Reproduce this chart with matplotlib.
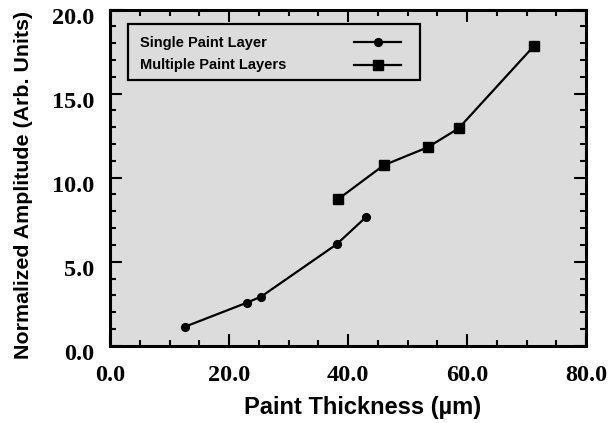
import matplotlib
matplotlib.use("Agg")
import matplotlib.pyplot as plt
from matplotlib.ticker import MultipleLocator, FormatStrFormatter
from matplotlib.patches import Rectangle
from matplotlib.transforms import ScaledTranslation

# Paint thickness (um) vs normalized amplitude
single_thickness = [12.6, 23.0, 25.4, 38.1, 43.1]
single_amplitude = [1.13, 2.56, 2.92, 6.04, 7.68]

multi_thickness = [38.3, 46.0, 53.4, 58.6, 71.3]
multi_amplitude = [8.71, 10.74, 11.81, 12.94, 17.86]

series_labels = ["Single Paint Layer", "Multiple Paint Layers"]

x_ticks = [0, 20, 40, 60, 80]
y_ticks = [0, 5, 10, 15, 20]

W, H = 608, 423
X0, X1, YT, YB = 110, 586, 9.7, 345.7

fig = plt.figure(figsize=(W / 100, H / 100), dpi=100)
ax = fig.add_axes([X0 / W, 1 - YB / H, (X1 - X0) / W, (YB - YT) / H])
ax.set_facecolor("#dcdcdc")

circle_style = dict(color="black", lw=1.6, marker="o", ms=5.6)
square_style = dict(color="black", lw=1.6, marker="s", ms=7.0)

ax.plot(single_thickness, single_amplitude, zorder=3, **circle_style)
ax.plot(multi_thickness, multi_amplitude, zorder=3, **square_style)

ax.set_xlim(0, 80)
ax.set_ylim(0, 20)
ax.set_xticks(x_ticks)
ax.set_yticks(y_ticks)
ax.xaxis.set_minor_locator(MultipleLocator(5))
ax.yaxis.set_minor_locator(MultipleLocator(1))
ax.xaxis.set_major_formatter(FormatStrFormatter("%.1f"))
ax.yaxis.set_major_formatter(FormatStrFormatter("%.1f"))

for s in ax.spines.values():
    s.set_linewidth(2.2)

ax.tick_params(which="both", direction="in", top=True, right=True,
               width=1.5, color="black")
ax.tick_params(which="major", length=8.5)
ax.tick_params(which="minor", length=4.5)
ax.tick_params(axis="x", which="major", pad=14)
ax.tick_params(axis="y", which="major", pad=11)

serif = ["Liberation Serif", "DejaVu Serif"]
for lab in ax.get_xticklabels() + ax.get_yticklabels():
    lab.set_fontfamily(serif)
    lab.set_fontweight("bold")
    lab.set_fontsize(17.5)
shift = ScaledTranslation(0, -4.5 / 72, fig.dpi_scale_trans)
for lab in ax.get_yticklabels():
    lab.set_transform(lab.get_transform() + shift)


def fx(px):
    return (px - X0) / (X1 - X0)


def fy(py):
    return (YB - py) / (YB - YT)


sans = ["Liberation Sans", "DejaVu Sans"]
ax.set_xlabel("Paint Thickness (\u00b5m)", fontfamily=sans, fontweight="bold",
              fontsize=17)
ax.set_ylabel("Normalized Amplitude (Arb. Units)", fontfamily=sans,
              fontweight="bold", fontsize=15.4)
ax.xaxis.set_label_coords(fx(363), fy(396))
ax.yaxis.set_label_coords(fx(33), fy(184.5))

# legend box with labels on the left and line samples on the right
box = Rectangle((fx(127.7), fy(80)), fx(420) - fx(127.7), fy(24) - fy(80),
                transform=ax.transAxes, facecolor="#dcdcdc",
                edgecolor="black", lw=1.6, zorder=4)
ax.add_patch(box)
row_y = [42.5, 65.5]
for label, style, py in zip(series_labels, [circle_style, square_style], row_y):
    ax.text(fx(140), fy(py), label, transform=ax.transAxes, ha="left",
            va="center", fontfamily=sans, fontweight="bold", fontsize=10.5,
            zorder=5)
    ax.plot([fx(354), fx(401)], [fy(py), fy(py)], transform=ax.transAxes,
            color="black", lw=1.6, zorder=5, clip_on=False)
    ax.plot([fx(378)], [fy(py)], transform=ax.transAxes, color="black",
            marker=style["marker"], ms=style["ms"], lw=0, zorder=5,
            clip_on=False)

fig.savefig("out.png", dpi=100, facecolor="white")
